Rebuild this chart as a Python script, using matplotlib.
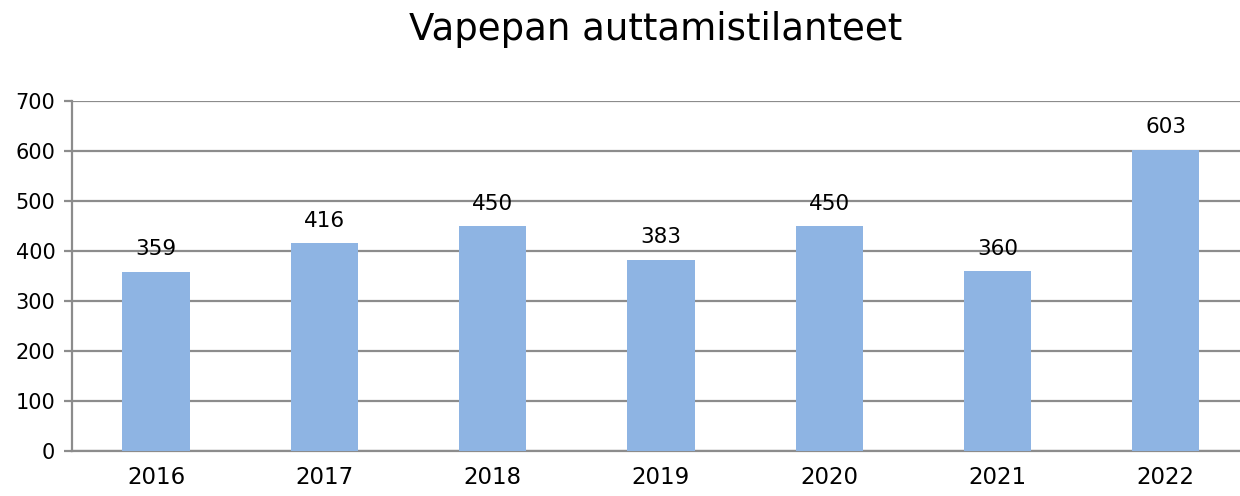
import matplotlib
matplotlib.use("Agg")
import matplotlib.pyplot as plt

years = ["2016", "2017", "2018", "2019", "2020", "2021", "2022"]
counts = [359, 416, 450, 383, 450, 360, 603]

plt.rcParams['font.family'] = ['DejaVu Sans']

fig = plt.figure(figsize=(12.4, 4.96), dpi=100)
ax = fig.add_axes([0.058, 0.091, 0.95, 0.705])

gray = "#8c8c8c"
x = range(len(years))
bars = ax.bar(x, counts, width=0.4, color="#8eb4e3", zorder=3)
for b, v in zip(bars, counts):
    ax.text(b.get_x() + b.get_width() / 2, v + 25, str(v),
            ha="center", va="bottom", fontsize=15.5)

ax.set_xlim(-0.5, len(years) - 0.5)
ax.set_ylim(0, 700)
ax.set_yticks(range(0, 701, 100))
ax.set_xticks(list(x))
ax.set_xticklabels(years)
ax.yaxis.grid(True, color=gray, linewidth=1.6, zorder=0)

for s in ["top", "right"]:
    ax.spines[s].set_visible(False)
ax.spines["left"].set_color(gray)
ax.spines["left"].set_linewidth(1.6)
ax.spines["bottom"].set_color(gray)
ax.spines["bottom"].set_linewidth(1.6)
ax.tick_params(axis="y", length=6, width=1.6, color=gray, labelsize=15, pad=6)
ax.tick_params(axis="x", length=0, labelsize=16.5, pad=11)

fig.text(0.529, 0.94, "Vapepan auttamistilanteet", ha="center", va="center", fontsize=26.7)

fig.savefig("out.png", dpi=100)
